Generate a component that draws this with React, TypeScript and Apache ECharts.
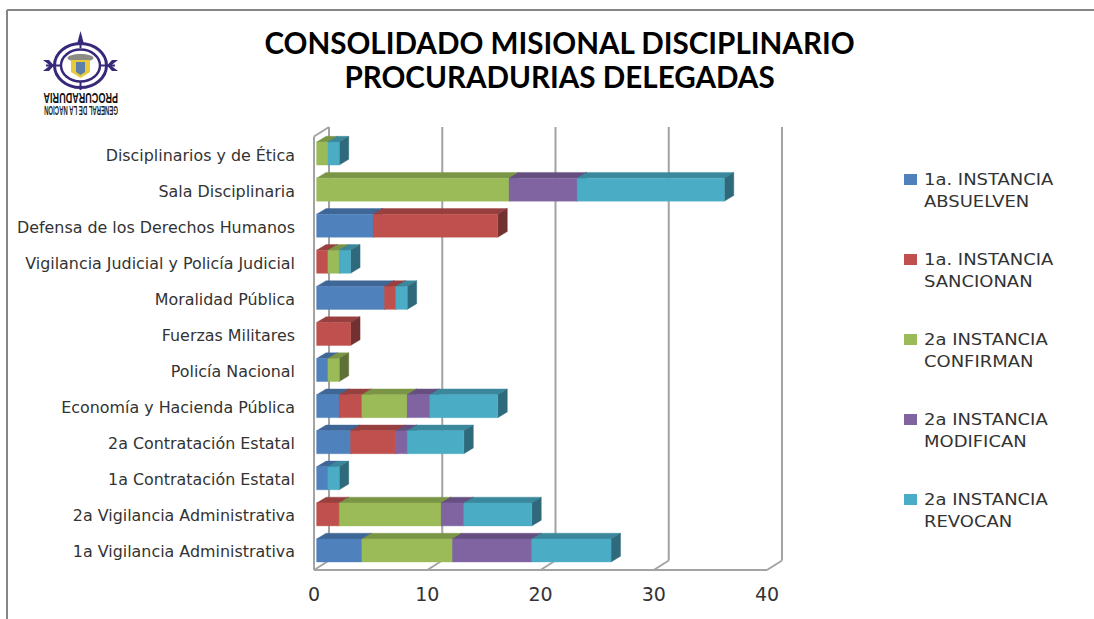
import React, { useEffect, useRef } from "react";
import * as echarts from "echarts";

const categories = [
  "Disciplinarios y de Ética",
  "Sala Disciplinaria",
  "Defensa de los Derechos Humanos",
  "Vigilancia Judicial y Policía Judicial",
  "Moralidad Pública",
  "Fuerzas Militares",
  "Policía Nacional",
  "Economía y Hacienda Pública",
  "2a Contratación Estatal",
  "1a Contratación Estatal",
  "2a Vigilancia Administrativa",
  "1a Vigilancia Administrativa",
];
const absuelven = [0, 0, 5, 0, 6, 0, 1, 2, 3, 1, 0, 4];
const sancionan = [0, 0, 11, 1, 1, 3, 0, 2, 4, 0, 2, 0];
const confirman = [1, 17, 0, 1, 0, 0, 1, 4, 0, 0, 9, 8];
const modifican = [0, 6, 0, 0, 0, 0, 0, 2, 1, 0, 2, 7];
const revocan = [1, 13, 0, 1, 1, 0, 0, 6, 5, 1, 6, 7];
const seriesNames = [
  "1a. INSTANCIA\nABSUELVEN",
  "1a. INSTANCIA\nSANCIONAN",
  "2a INSTANCIA\nCONFIRMAN",
  "2a INSTANCIA\nMODIFICAN",
  "2a INSTANCIA\nREVOCAN",
];
const seriesValues = [absuelven, sancionan, confirman, modifican, revocan];
const frontColors = ["#4F81BD", "#C0504D", "#9BBB59", "#8064A2", "#4BACC6"];
const topColors = ["#3E6696", "#984040", "#7B9546", "#654F81", "#3B889D"];
const sideColors = ["#2F4D71", "#733030", "#5D7035", "#4C3B61", "#2E6A7B"];
const wallTicks = [0, 10, 20, 30, 40];
const titleText = "CONSOLIDADO MISIONAL DISCIPLINARIO\nPROCURADURIAS DELEGADAS";

const barDX = 9.5;
const barDY = 5.7;
const offsetX = 2.6;
const offsetY = -1.5;
const barH = 23;
const wallDX = 15;
const wallDY = 9.5;
const wallColor = "#A3A3A3";

function buildStacks() {
  const running = categories.map(() => 0);
  return seriesValues.map((values) =>
    values.map((v, i) => {
      const start = running[i];
      running[i] += v;
      return [i, start, running[i]];
    }).filter((d) => d[2] > d[1])
  );
}

function barRender(idx: number) {
  return (_p: any, api: any) => {
    const a = api.coord([api.value(1), api.value(0)]);
    const b = api.coord([api.value(2), api.value(0)]);
    const x0 = a[0] + offsetX;
    const x1 = b[0] + offsetX;
    const y0 = a[1] + offsetY - barH / 2;
    const y1 = y0 + barH;
    const poly = (points: number[][], fill: string) => ({
      type: "polygon",
      shape: { points },
      style: { fill, stroke: fill, lineWidth: 0.4 },
    });
    return {
      type: "group",
      children: [
        poly([[x0, y0], [x0 + barDX, y0 - barDY], [x1 + barDX, y0 - barDY], [x1, y0]], topColors[idx]),
        poly([[x1, y0], [x1 + barDX, y0 - barDY], [x1 + barDX, y1 - barDY], [x1, y1]], sideColors[idx]),
        poly([[x0, y0], [x1, y0], [x1, y1], [x0, y1]], frontColors[idx]),
      ],
    };
  };
}

function wallRender(params: any, api: any) {
  const cs = params.coordSys;
  const bottom = cs.y + cs.height;
  const topY = 127;
  const x = api.coord([api.value(0), 0])[0];
  const line = (x1: number, y1: number, x2: number, y2: number) => ({
    type: "line",
    shape: { x1, y1, x2, y2 },
    style: { stroke: wallColor, lineWidth: 2 },
  });
  const children: any[] = [
    line(x, bottom, x + wallDX, bottom - wallDY),
    line(x + wallDX, bottom - wallDY, x + wallDX, topY),
  ];
  if (api.value(0) === 0) {
    children.push(line(x, bottom, x, topY + wallDY));
    children.push(line(x, topY + wallDY, x + wallDX, topY));
  }
  return { type: "group", children };
}

function legendGraphics() {
  const out: any[] = [];
  seriesNames.forEach((name, i) => {
    const y = 174 + i * 80;
    out.push({ type: "rect", x: 904, y, shape: { width: 13, height: 11 }, style: { fill: frontColors[i] } });
    out.push({
      type: "text",
      x: 924,
      y: y - 6,
      scaleX: 1.16,
      style: { text: name, fill: "#333333", font: "15.5px 'DejaVu Sans'", lineHeight: 22 },
    });
  });
  return out;
}

function logoGraphics() {
  const ink = "#37287A";
  const cx = 80.5;
  const cy = 65.5;
  const ring = (rx: number, ry: number, lw: number) => ({
    type: "ellipse",
    shape: { cx, cy, rx, ry },
    style: { fill: "none", stroke: ink, lineWidth: lw },
  });
  const ln = (x1: number, y1: number, x2: number, y2: number) => ({
    type: "line",
    shape: { x1, y1, x2, y2 },
    style: { stroke: ink, lineWidth: 2 },
  });
  return [
    ring(26, 22, 3),
    ring(19.5, 16, 2.5),
    ln(cx, 40, cx, 48),
    ln(cx, 81, cx, 90),
    ln(46, cy, 60, cy),
    ln(101, cy, 115, cy),
    { type: "polygon", shape: { points: [[cx, 31], [cx + 3.5, 44], [cx - 3.5, 44]] }, style: { fill: ink } },
    { type: "polygon", shape: { points: [[43, 60], [50, cy], [43, 71], [49, 71], [54, cy], [49, 60]] }, style: { fill: ink } },
    { type: "polygon", shape: { points: [[118, 60], [111, cy], [118, 71], [112, 71], [107, cy], [112, 60]] }, style: { fill: ink } },
    { type: "ellipse", shape: { cx, cy: 58, rx: 13, ry: 4 }, style: { fill: "#8C8C84" } },
    { type: "polygon", shape: { points: [[71, 60], [90, 60], [90, 72], [cx, 78], [71, 72]] }, style: { fill: "#E8C93A" } },
    { type: "polygon", shape: { points: [[76, 62], [85, 62], [85, 72], [cx, 75], [76, 72]] }, style: { fill: "#5B7FA8" } },
    {
      type: "text",
      x: 118,
      y: 97.5,
      rotation: Math.PI,
      scaleX: 0.605,
      style: { text: "PROCURADURIA", fill: "#111111", font: "bold 15px 'Liberation Sans'", textVerticalAlign: "middle" },
    },
    {
      type: "text",
      x: 118,
      y: 110.5,
      rotation: Math.PI,
      scaleX: 0.5,
      style: { text: "GENERAL DE LA NACION", fill: "#222222", font: "bold 12px 'Liberation Sans'", textVerticalAlign: "middle" },
    },
  ];
}

export default function App() {
  const ref = useRef<HTMLDivElement>(null);
  useEffect(() => {
    const chart = echarts.init(ref.current!, undefined, { renderer: "svg" });
    const stacks = buildStacks();
    const bars: any[] = stacks.map((data, idx) => ({
      type: "custom",
      name: seriesNames[idx],
      data,
      clip: false,
      silent: true,
      z: 3,
      encode: { x: [1, 2], y: 0 },
      renderItem: barRender(idx),
    }));
    chart.setOption({
      animation: false,
      backgroundColor: "#FFFFFF",
      title: {
        text: titleText,
        left: 554.5,
        top: 20,
        textAlign: "center",
        textStyle: { fontFamily: "Lato", fontWeight: "bold", fontSize: 29.6, lineHeight: 34, color: "#000000" },
      },
      grid: { left: 314, top: 137, width: 453, height: 433, containLabel: false },
      xAxis: {
        type: "value",
        min: 0,
        max: 40,
        interval: 10,
        axisLine: { show: false },
        axisTick: { show: false },
        splitLine: { show: false },
        axisLabel: { color: "#333333", fontSize: 19, fontFamily: "'DejaVu Sans'", margin: 14 },
      },
      yAxis: {
        type: "category",
        inverse: true,
        data: categories,
        axisLine: { show: false },
        axisTick: { show: false },
        axisLabel: { color: "#333333", fontSize: 15.9, fontFamily: "'DejaVu Sans'", margin: 19, interval: 0 },
      },
      graphic: [
        { type: "line", shape: { x1: 7, y1: 10, x2: 1094, y2: 10 }, style: { stroke: "#868686", lineWidth: 2 } },
        { type: "line", shape: { x1: 7, y1: 10, x2: 7, y2: 619 }, style: { stroke: "#868686", lineWidth: 2 } },
        ...logoGraphics(),
        ...legendGraphics(),
      ],
      series: [
        {
          type: "custom",
          name: "walls",
          data: wallTicks.map((t) => [t]),
          clip: false,
          silent: true,
          z: 1,
          encode: { x: 0 },
          renderItem: wallRender,
        },
        {
          type: "custom",
          name: "floor",
          data: [[0, 40]],
          clip: false,
          silent: true,
          z: 2,
          encode: { x: [0, 1] },
          renderItem: (params: any, api: any) => {
            const cs = params.coordSys;
            const b = cs.y + cs.height;
            return {
              type: "line",
              shape: { x1: api.coord([api.value(0), 0])[0], y1: b, x2: api.coord([api.value(1), 0])[0], y2: b },
              style: { stroke: wallColor, lineWidth: 2 },
            };
          },
        },
        ...bars,
      ],
    });
    return () => chart.dispose();
  }, []);
  return <div ref={ref} style={{ position: "fixed", left: 0, top: 0, width: 1094, height: 619 }} />;
}
